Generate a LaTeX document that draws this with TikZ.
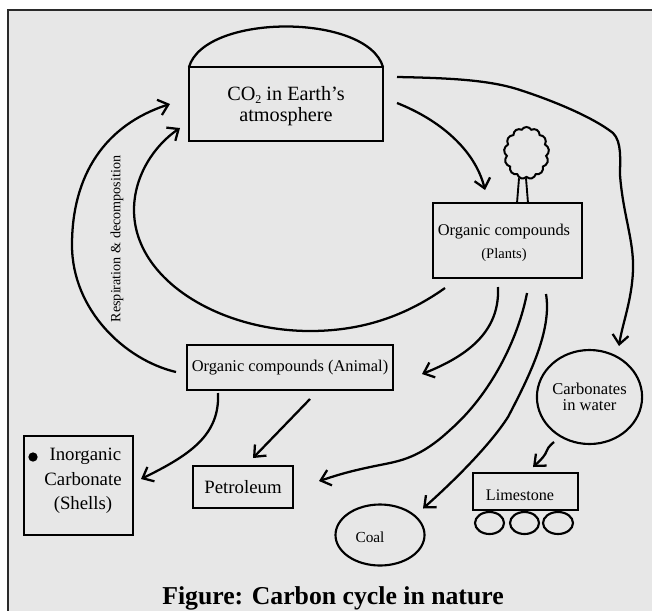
\documentclass[tikz,border=0pt]{standalone}
\usepackage{fontspec}
\setmainfont{Liberation Serif}
\usetikzlibrary{arrows.meta,shapes.geometric,shapes.symbols}
\definecolor{panelgray}{HTML}{E7E7E7}
\definecolor{rimgray}{HTML}{2A2A2A}
\tikzset{
    box/.style={draw, rectangle, line width=1.9pt, inner sep=0pt, outer sep=0pt, align=center},
    blob/.style={draw, ellipse, line width=1.6pt, inner sep=0pt, outer sep=0pt, align=center},
    flow/.style={-{Straight Barb[length=7pt,width=12pt]}, line width=1.7pt},
    txt/.style={inner sep=0pt, align=center}
}
\begin{document}
\begin{tikzpicture}[x=0.75pt,y=-0.75pt]
        \useasboundingbox (0,0) rectangle (652,611);
        \fill[panelgray] (8,10) rectangle (652,611);
        \draw[rimgray, line width=2.2pt] (652,10) -- (8,10) -- (8,611);

        \node[box, line width=1.7pt, minimum width=145.5pt, minimum height=55.5pt] (atmos) at (286,104) {};
        \node[txt, font=\fontsize{15.2}{15.5}\selectfont] (atmostext) at (286,106) {CO{\fontsize{9}{9}\selectfont\raisebox{-2pt}{2}} in Earth’s\\atmosphere};
        \draw[line width=1.7pt] (atmos.north west) .. controls (205,13) and (367,13) .. (atmos.north east);

        \node[box, minimum width=111.75pt, minimum height=56.25pt] (plants) at (507.5,240.5) {};
        \node[txt, font=\fontsize{12.3}{17}\selectfont] (plantstext) at (504,243) {Organic compounds\\{\fontsize{10.9}{17}\selectfont (Plants)}};
        \node[cloud, draw, cloud puffs=13, cloud puff arc=120, aspect=0.87, line width=1.5pt, inner sep=0pt, minimum width=33.75pt, minimum height=39pt] (crown) at (526.5,153) {};
        \draw[line width=1.4pt] ([shift={(9.5,0)}]plants.north) -- ([shift={(-7.5,0)}]crown.south);
        \draw[line width=1.4pt] ([shift={(20.5,0)}]plants.north) -- ([shift={(-0.5,0)}]crown.south);

        \node[box, minimum width=154.5pt, minimum height=33.75pt, font=\fontsize{12.3}{14}\selectfont] (animal) at (290,367.5) {Organic compounds (Animal)};
        \node[box, minimum width=81.75pt, minimum height=74.25pt] (shells) at (78.5,485.5) {};
        \node[txt, font=\fontsize{14.1}{18.5}\selectfont] (shellstext) at (83,481) {\ Inorganic\\Carbonate\\(Shells)};
        \node[circle, fill=black, inner sep=0pt, minimum size=7pt] (dot) at (33,457) {};
        \node[box, minimum width=75pt, minimum height=31.5pt, font=\fontsize{14.1}{16}\selectfont] (petroleum) at (243,487) {Petroleum};
        \node[blob, minimum width=66.75pt, minimum height=45.75pt] (coal) at (380,535) {};
        \node[txt, font=\fontsize{11.5}{13}\selectfont] (coaltext) at (370,537) {Coal};
        \node[blob, minimum width=78.75pt, minimum height=70.5pt, font=\fontsize{12.4}{12}\selectfont] (carbonates) at (589.5,397) {Carbonates\\in water};
        \node[box, minimum width=78.75pt, minimum height=27.75pt] (limestone) at (525.5,491.5) {};
        \node[txt, font=\fontsize{12.1}{14}\selectfont] (limestonetext) at (520,495) {Limestone};
        \node[blob, minimum width=21.75pt, minimum height=16.5pt] (wheela) at (489.5,523) {};
        \node[blob, minimum width=21.75pt, minimum height=16.5pt] (wheelb) at (524.5,523) {};
        \node[blob, minimum width=22.5pt, minimum height=16.5pt] (wheelc) at (558,523) {};

        \node[txt, rotate=90, font=\fontsize{10.6}{12}\selectfont] (resp) at (117,239) {Respiration \& decomposition};
        \node[txt, font=\bfseries\fontsize{19.3}{23}\selectfont] (title) at (333,598.5) {Figure: Carbon cycle in nature};

        \draw[flow] ([shift={(14,-1)}]atmos.east) .. controls (440,120) and (475,150) .. ([shift={(-22.5,-13)}]plants.north);
        \draw[flow] ([shift={(14,-27)}]atmos.east) .. controls (450,78) and (490,80) .. (520,90)
            .. controls (545,98) and (590,115) .. (613,133)
            .. controls (622,142) and (620,160) .. (620,175)
            .. controls (623,215) and (634,240) .. (633,270)
            .. controls (632,300) and (622,325) .. ([shift={(29.5,-4)}]carbonates.north);
        \draw[flow] ([shift={(-11,4.5)}]animal.west) .. controls (125,360) and (72,310) .. (72,245)
            .. controls (72,175) and (105,125) .. ([shift={(-19,0)}]atmos.west);
        \draw[flow] ([shift={(-62.5,10)}]plants.south) .. controls (400,320) and (355,331) .. (310,331)
            .. controls (220,331) and (134,280) .. (134,210)
            .. controls (134,175) and (155,145) .. ([shift={(-9,24)}]atmos.west);
        \draw[flow] ([shift={(-9.5,9)}]plants.south) .. controls (500,330) and (470,355) .. ([shift={(29,6.5)}]animal.east);
        \draw[flow] ([shift={(19.5,15)}]plants.south) .. controls (518,340) and (490,395) .. (450,430)
            .. controls (420,458) and (400,461) .. (380,465)
            .. controls (345,472) and (335,476) .. ([shift={(26,-6)}]petroleum.east);
        \draw[flow] ([shift={(38.5,16)}]plants.south) .. controls (552,330) and (530,375) .. (508,417)
            .. controls (490,445) and (455,480) .. ([shift={(43,4)}]coal.north);
        \draw[flow] ([shift={(-72,3)}]animal.south) .. controls (220,435) and (190,455) .. ([shift={(8,-6.5)}]shells.east);
        \draw[flow] ([shift={(20,9)}]animal.south) -- ([shift={(10,-8)}]petroleum.north);
        \draw[flow] ([shift={(-35.5,-2)}]carbonates.south) .. controls (542,452) and (552,450) .. ([shift={(7.5,-6)}]limestone.north);
    \end{tikzpicture}
\end{document}
